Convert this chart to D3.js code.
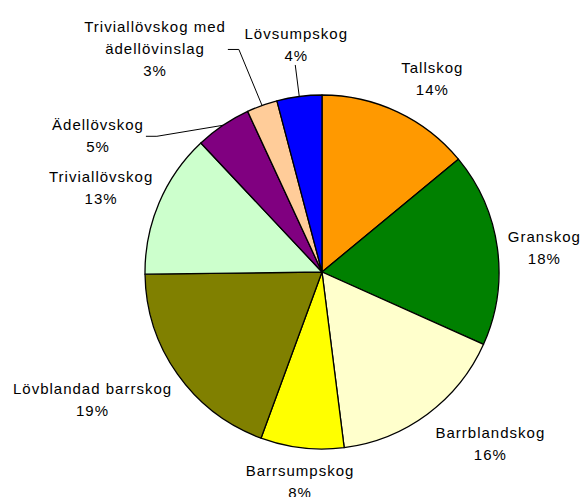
<!DOCTYPE html>
<html>
<head>
<meta charset="utf-8">
<script src="https://cdn.jsdelivr.net/npm/d3@7"></script>
<style>
  body { margin: 0; background: #fff; }
  svg text { font-family: "Liberation Sans", Arial, sans-serif; font-size: 15px; letter-spacing: 1px; fill: #000; }
</style>
</head>
<body>
<div id="chart"></div>
<script>
var categories = ["Tallskog", "Granskog", "Barrblandskog", "Barrsumpskog", "Lövblandad barrskog",
                  "Triviallövskog", "Ädellövskog", "Triviallövskog med ädellövinslag", "Lövsumpskog"];
var shares = [14.0, 17.7, 16.3, 7.6, 19.2, 13.2, 5.1, 2.8, 4.1];
var percentLabels = ["14%", "18%", "16%", "8%", "19%", "13%", "5%", "3%", "4%"];
var labelLines = [["Tallskog"], ["Granskog"], ["Barrblandskog"], ["Barrsumpskog"], ["Lövblandad barrskog"],
                  ["Triviallövskog"], ["Ädellövskog"], ["Triviallövskog med", "ädellövinslag"], ["Lövsumpskog"]];
var colors = ["#FF9900", "#008000", "#FFFFCC", "#FFFF00", "#808000", "#CCFFCC", "#800080", "#FFCC99", "#0000FF"];

// label placement, offset from the slice's mid point on the rim
var labelNudge = [[35, -33], [47, -1], [63, 29], [-2, 34], [-85, 25], [-58, -15.5], [-125, 10], [-107, -57], [-3, -52]];
var withLeader = [false, false, false, false, false, false, true, true, true];

var width = 583, height = 497;
var cx = 322, cy = 272, r = 177, lineH = 22;

var data = categories.map(function(c, i){
  return {name: c, value: shares[i], pct: percentLabels[i], lines: labelLines[i], color: colors[i], i: i};
});

var svg = d3.select("#chart").append("svg")
    .attr("width", width)
    .attr("height", height);

var g = svg.append("g").attr("transform", "translate(" + cx + "," + cy + ")");

var pie = d3.pie().sort(null).value(function(d){ return d.value; });
var arcs = pie(data);

var arc = d3.arc().innerRadius(0).outerRadius(r);
var rim = d3.arc().innerRadius(r).outerRadius(r);

g.selectAll("path.slice")
    .data(arcs)
  .enter().append("path")
    .attr("class", "slice")
    .attr("d", arc)
    .attr("fill", function(d){ return d.data.color; })
    .attr("stroke", "#000")
    .attr("stroke-width", 1.3)
    .attr("stroke-linejoin", "round");

arcs.forEach(function(d){
  var p = rim.centroid(d);
  var n = labelNudge[d.data.i];
  var ax = p[0] + n[0], ay = p[1] + n[1];
  var lines = d.data.lines.concat([d.data.pct]);
  var first = ay - (lines.length - 1) * lineH / 2 + 5.5;

  var t = g.append("text")
      .attr("text-anchor", "middle");
  lines.forEach(function(s, k){
    t.append("tspan")
      .attr("x", ax)
      .attr("y", first + k * lineH)
      .text(s);
  });

  if (withLeader[d.data.i]) {
    var bb = t.node().getBBox();
    var pts;
    if (Math.abs(n[0]) < 20) {
      pts = [p, [ax - 1, bb.y + bb.height + 1]];
    } else {
      var ex = bb.x + bb.width + 2;
      pts = [p, [ex + 11, ay + 1], [ex, ay + 1]];
    }
    g.append("path")
      .attr("d", d3.line()(pts))
      .attr("fill", "none")
      .attr("stroke", "#000")
      .attr("stroke-width", 1);
  }
});
</script>
</body>
</html>
